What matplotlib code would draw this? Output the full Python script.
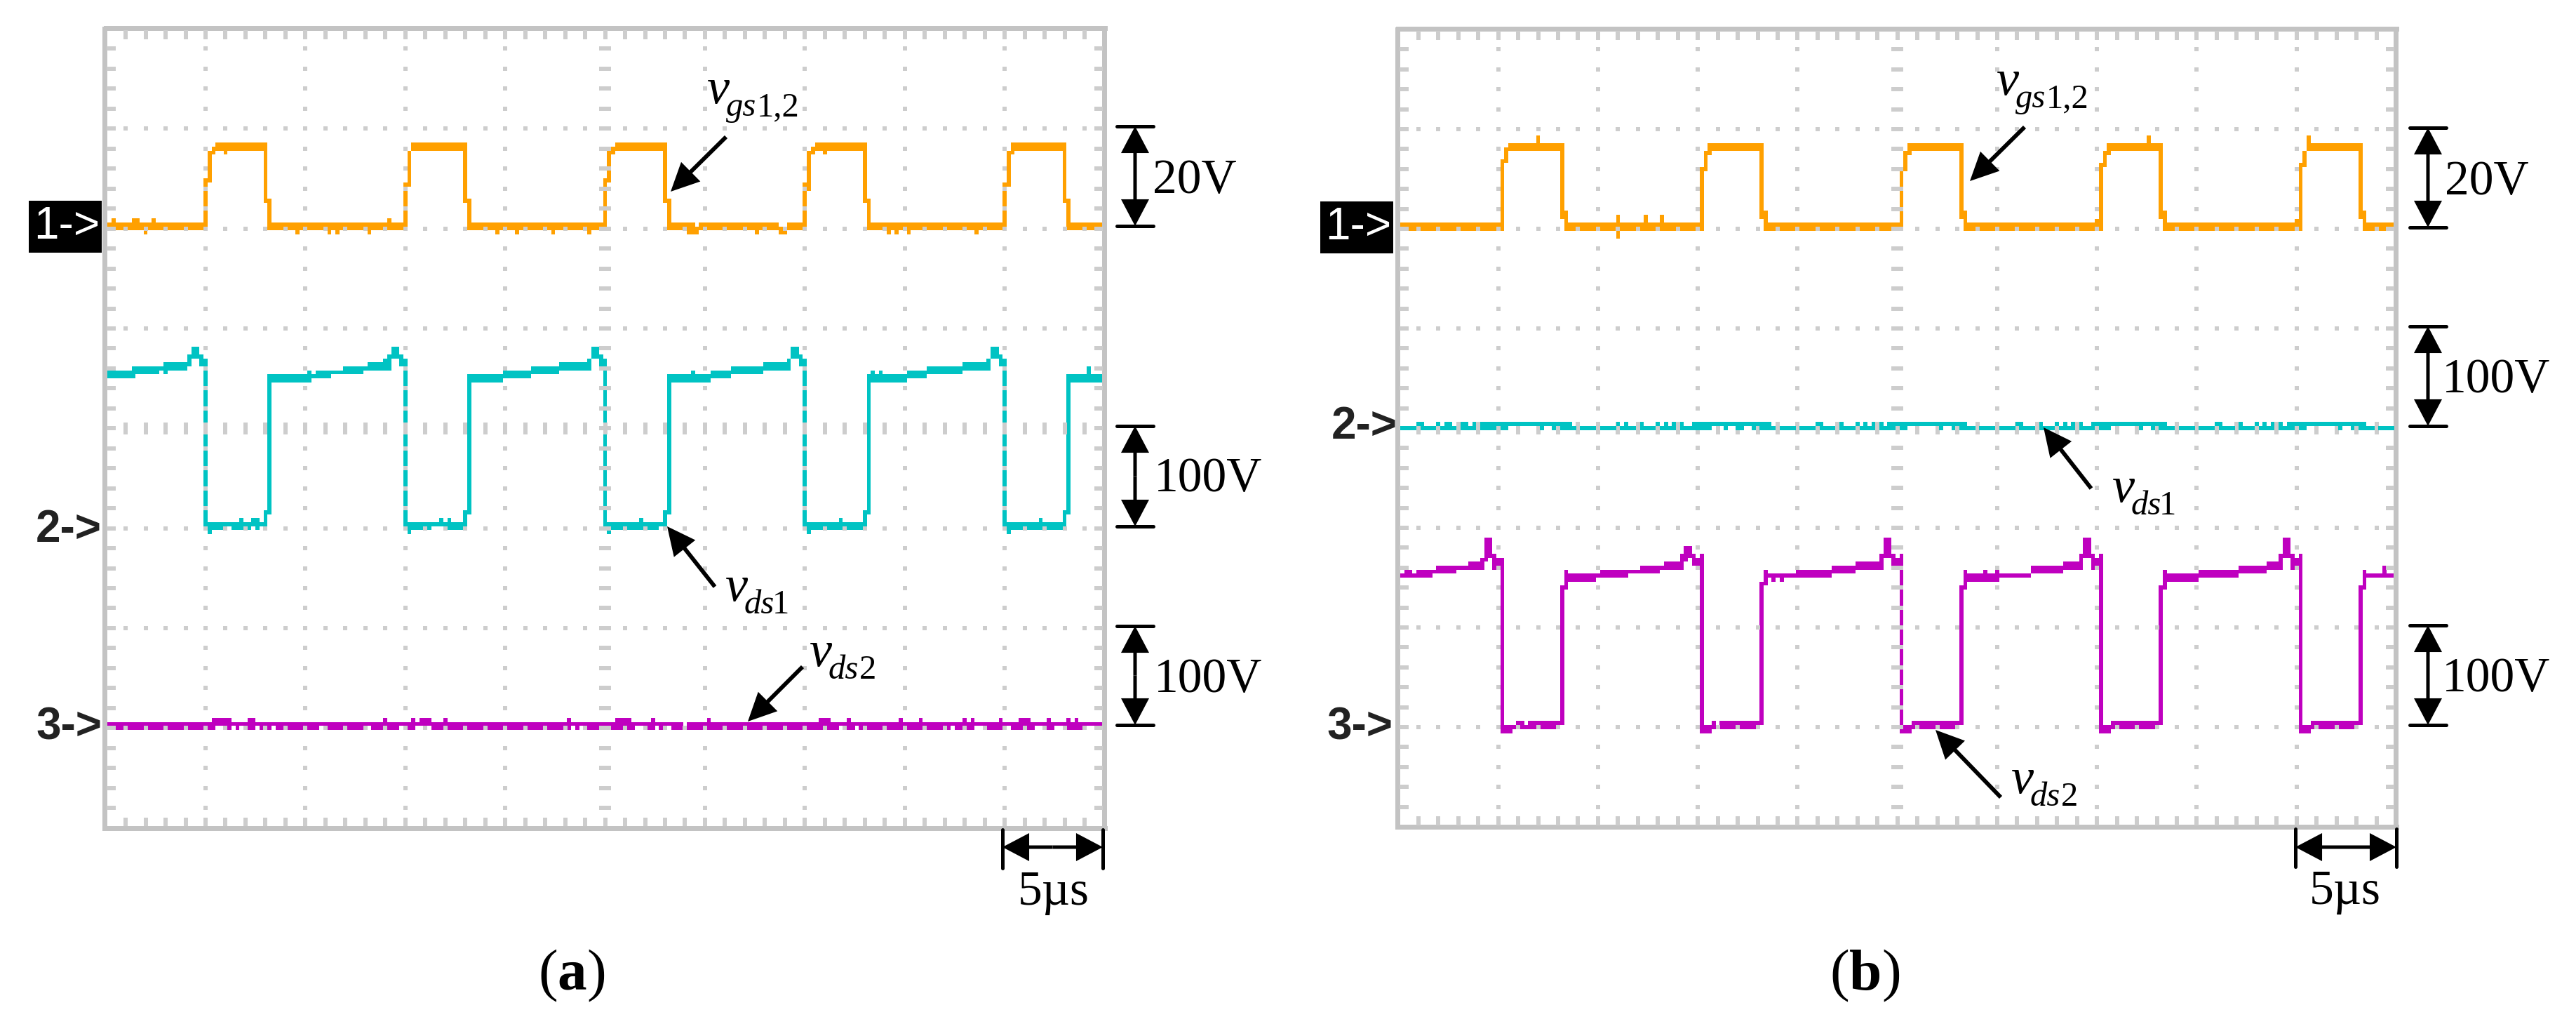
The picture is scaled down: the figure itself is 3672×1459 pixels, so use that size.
import matplotlib
matplotlib.use("Agg")
import matplotlib.pyplot as plt
from matplotlib.patches import Rectangle

W, H = 3672, 1459
plt.rcParams['font.family'] = ['Liberation Serif', 'DejaVu Serif']
plt.rcParams['mathtext.fontset'] = 'custom'
plt.rcParams['mathtext.rm'] = 'Liberation Serif'
plt.rcParams['mathtext.it'] = 'Liberation Serif:italic'
plt.rcParams['mathtext.bf'] = 'Liberation Serif:bold'

ORANGE, CYAN, MAGENTA = '#FFA000', '#00C3C3', '#BF00BF'
GRID, FRAME = '#CDCDCD', '#C3C3C3'

# Scope raster: 25 columns and 25 rows per division. Each run is (first column, top row, bottom row).
orange_a = [
    (0,49,50),(2,48,50),(3,49,50),(7,48,50),(9,49,50),(10,49,51),(11,49,50),(12,48,50),(13,49,50),
    (25,38,50),(26,31,38),(27,30,31),(28,29,30),(30,29,31),(31,29,30),(40,29,43),(41,43,50),
    (42,49,50),(48,49,51),(49,49,50),(56,49,51),(57,49,50),(58,49,51),(59,49,50),(66,49,51),(67,49,50),(71,48,50),(72,49,50),
    (75,39,50),(76,31,39),(77,29,30),(90,29,43),(91,43,50),
    (92,49,50),(98,49,51),(99,49,50),(103,49,51),(104,49,50),(112,49,51),(113,49,50),(121,49,51),(122,49,50),
    (125,38,50),(126,31,38),(127,30,31),(128,29,30),(140,29,43),(141,43,50),
    (142,49,50),(146,49,51),(148,50,51),(149,49,50),(163,49,51),(164,49,50),(169,50,51),(171,49,50),
    (175,39,50),(176,31,40),(177,30,31),(178,29,30),(180,29,31),(181,29,30),(190,29,43),(191,43,50),
    (192,49,50),(196,49,51),(197,49,50),(198,49,51),(199,49,50),(201,49,51),(202,49,50),(218,49,51),(219,49,50),
    (225,39,50),(226,31,39),(227,29,31),(228,29,30),(240,29,43),(241,43,50),(242,49,50),(250,49,50),
]
cyan_a = [
    (0,86,88),(1,86,87),(7,85,87),(8,85,86),(14,85,85),(15,84,86),(16,84,85),(21,82,84),(22,80,82),(24,82,84),
    (25,83,124),(26,124,126),(27,124,125),(30,124,124),(32,124,125),(34,123,125),(35,124,124),(36,124,125),(37,123,124),(38,123,125),(39,124,124),(40,121,124),(41,87,121),
    (42,87,88),(51,86,88),(52,87,87),(53,86,87),(57,86,86),(60,85,86),(65,85,85),(66,84,85),(70,83,85),(71,82,85),(72,80,82),(74,82,84),
    (75,83,124),(76,124,126),(77,124,125),(80,124,124),(81,124,125),(82,124,124),(84,123,124),(85,124,124),(86,123,125),(87,124,125),(90,121,124),(91,87,121),
    (92,87,88),(100,86,87),(107,85,86),(114,84,85),(121,83,85),(122,80,82),(124,82,84),
    (125,83,124),(126,124,126),(127,124,125),(134,123,125),(135,124,125),(139,124,124),(140,121,124),(141,87,121),
    (142,87,88),(147,86,88),(148,87,88),(152,86,87),(157,85,86),(165,84,85),(171,83,85),(172,80,82),(174,82,84),
    (175,83,124),(176,124,126),(177,124,125),(184,123,125),(185,124,125),(190,121,124),(191,87,121),
    (192,86,88),(193,87,88),(194,86,88),(195,87,88),(201,86,87),(206,85,86),(215,84,85),(221,83,85),(222,80,82),(224,82,84),
    (225,83,124),(226,124,126),(227,124,125),(234,123,125),(235,124,125),(240,121,124),(241,87,121),
    (242,87,88),(246,85,88),(247,87,88),(250,87,88),
]
mag_a_raised = [27,28,29,30,31,36,37,70,77,79,80,81,85,116,128,129,130,131,137,151,179,180,181,186,199,204,215,217,224,229,230,231,236,241,243]
mag_a_thin = [28,29,30,32,34,35,38,40,42,54,55,66,74,78,79,80,81,117,119,133,134,138,141,184,188,210,212,218,219,226,233,234,238,239,246,247]
mag_a_gap = [145]
orange_b = [
    (0,49,50),(26,33,50),(27,30,33),(28,29,30),(35,27,30),(36,29,30),(41,29,47),(42,46,50),
    (43,49,50),(55,47,52),(56,49,50),(62,47,50),(63,49,50),(66,47,50),(67,49,50),
    (76,35,50),(77,31,35),(78,29,31),(79,29,30),(91,29,47),(92,46,50),
    (93,49,50),(126,35,50),(127,31,35),(128,29,31),(129,29,30),(141,29,47),(142,46,50),
    (143,49,50),(175,48,50),(176,34,50),(177,31,34),(178,29,31),(179,29,30),(188,27,30),(189,29,30),(191,29,47),(192,46,50),
    (193,49,50),(225,48,50),(226,34,50),(227,31,34),(228,27,30),(229,29,30),(241,29,47),(242,46,50),(243,49,50),(250,49,50),
]
cyan_b_both = [6,12,13,16,17,19,21,22,23,24,26,27,36,39,41,42,43,57,61,67,69,71,74,75,76,77,78,82,85,86,89,91,92,93,106,111,117,119,121,123,124,126,127,136,139,141,142,156,161,167,169,171,174,176,177,178,186,189,191,192,206,211,217,219,221,223,224,226,227,236,239,241,242]
cyan_b_upper = [5,10,25,28,29,30,31,32,33,34,35,37,38,40,55,65,79,80,81,83,84,87,88,90,105,115,125,128,129,130,131,132,133,134,135,137,138,140,155,165,175,179,180,181,182,183,184,185,187,188,190,205,215,225,228,229,230,231,232,233,234,235,237,238,240]
cyan_b_gap = [15,20,45,50,60,70,95,100,110,120,145,150,160,170,195,200,210,220,245]
magenta_b = [
    (0,137,137),(2,136,137),(4,137,137),(5,136,137),(9,136,136),(10,135,136),(15,135,135),(18,134,135),(21,133,135),(22,128,133),(23,128,132),(24,132,135),(25,133,134),
    (26,133,176),(27,175,176),(29,175,175),(30,174,175),(32,175,175),(33,174,175),(35,174,174),(36,174,175),(40,174,174),(41,140,174),
    (42,136,140),(43,137,138),(50,137,137),(51,136,137),(58,136,136),(61,135,136),(66,135,135),(67,134,135),(71,132,135),(72,130,133),(73,130,132),(74,132,134),(75,133,134),
    (76,132,176),(77,175,176),(79,174,175),(80,175,175),(81,174,175),(85,174,174),(86,174,175),(90,174,174),(91,139,174),
    (92,136,139),(93,137,137),(94,137,138),(95,137,137),(96,137,138),(97,137,137),(100,136,137),(109,135,136),(115,134,135),(121,132,135),(122,128,132),(124,132,135),(125,133,134),
    (126,132,176),(127,175,176),(129,174,175),(140,174,174),(141,140,174),
    (142,136,140),(143,137,138),(147,136,138),(148,137,138),(150,136,138),(151,137,137),(153,137,137),(159,135,136),(167,134,135),(171,132,135),(172,128,132),(174,132,135),(175,133,134),
    (176,132,176),(177,175,176),(179,174,175),(190,174,174),(191,140,174),
    (192,136,140),(193,137,138),(201,136,137),(211,135,136),(218,134,135),(221,132,135),(222,128,132),(224,132,135),(225,133,134),
    (226,132,176),(227,175,176),(229,174,175),(240,174,174),(241,140,174),
    (242,136,140),(243,137,137),(247,135,137),(248,137,137),(250,137,137),
]
channel_labels = ['1->', '2->', '3->']


def columns_to_runs(base_top, base_bottom, raised, thin, gap, first, last):
    """Per-column rows from the lists of columns that differ from the base row."""
    runs = []
    for c in range(first, last + 1):
        if c in gap:
            runs.append((c, None, None))
            continue
        top = base_top - 1 if c in raised else base_top
        bottom = base_bottom - 1 if c in thin else base_bottom
        runs.append((c, top, bottom))
    runs.append((last + 1, None, None))
    return runs


def draw_runs(ax, runs, color, z):
    for (c0, top, bottom), (c1, _, _) in zip(runs[:-1], runs[1:]):
        if top is None:
            continue
        ax.bar(c0 - 0.5, bottom - top + 1, width=c1 - c0, bottom=top - 0.5, align='edge',
               color=color, linewidth=0, antialiased=False, zorder=z)


def draw_grid(ax):
    lat = range(5, 250, 5)
    rows = range(5, 200, 5)
    xs, ys = [], []
    for c in lat:
        for r in rows:
            if (c % 25 == 0 or r % 25 == 0) and c != 125 and r != 100:
                xs.append(c)
                ys.append(r)
    ax.scatter(xs, ys, marker='s', s=(6 * 0.72) ** 2, color=GRID, linewidths=0, zorder=3)
    for a, b in ((0.3, 2.6), (247.4, 249.5), (123.5, 126.5)):
        ax.hlines(list(rows), a, b, color=GRID, lw=6 * 0.72, capstyle='butt', zorder=3)
    for a, b in ((0.4, 2.6), (197.4, 199.6), (98.5, 101.5)):
        ax.vlines(list(lat), a, b, color=GRID, lw=6 * 0.72, capstyle='butt', zorder=3)


def panel(x0, x1, y0, y1):
    ax = fig.add_axes([x0 / W, 1 - y1 / H, (x1 - x0) / W, (y1 - y0) / H])
    ax.set_xlim(0, 250)
    ax.set_ylim(200, 0)
    ax.set_xticks([])
    ax.set_yticks([])
    for s in ax.spines.values():
        s.set_color(FRAME)
        s.set_linewidth(7 * 0.72)
    ax.spines['left'].set_position(('outward', 1.2))
    ax.spines['top'].set_position(('outward', 0.7))
    ax.spines['right'].set_position(('outward', -0.6))
    return ax


fig = plt.figure(figsize=(W / 100, H / 100), dpi=100)

ax_a = panel(150.6, 1574.5, 41, 1179.6)
draw_grid(ax_a)
draw_runs(ax_a, orange_a, ORANGE, 2)
draw_runs(ax_a, cyan_a, CYAN, 2)
draw_runs(ax_a, columns_to_runs(174, 175, mag_a_raised, mag_a_thin, mag_a_gap, 0, 249), MAGENTA, 2)

ax_b = panel(1993.4, 3416, 42, 1178)
draw_grid(ax_b)
draw_runs(ax_b, orange_b, ORANGE, 2)
cb = []
for c in range(1, 250):
    if c in cyan_b_gap:
        cb.append((c, None, None))
    elif c in cyan_b_both:
        cb.append((c, 99, 100))
    elif c in cyan_b_upper:
        cb.append((c, 99, 99))
    else:
        cb.append((c, 100, 100))
cb.append((250, None, None))
draw_runs(ax_b, cb, CYAN, 4)
draw_runs(ax_b, magenta_b, MAGENTA, 2)

ov = fig.add_axes([0, 0, 1, 1], zorder=10)
ov.set_xlim(0, W)
ov.set_ylim(H, 0)
ov.axis('off')
ov.patch.set_alpha(0)

SIMPLE_DIM = 'simple,head_length=2.74,head_width=2.88,tail_width=0.36'
SIMPLE_NOTE = 'simple,head_length=2.9,head_width=2.8,tail_width=0.42'


def arrow(xy, xytext, style):
    ov.annotate('', xy=xy, xytext=xytext,
                arrowprops=dict(arrowstyle=style, mutation_scale=10, lw=0, color='k', shrinkA=0, shrinkB=0))


def dim_v(x, y0, y1):
    mid = (y0 + y1) / 2
    arrow((x, y0), (x, mid), SIMPLE_DIM)
    arrow((x, y1), (x, mid), SIMPLE_DIM)
    for y in (y0, y1):
        ov.plot([x - 26, x + 26], [y, y], color='k', lw=3.6, solid_capstyle='round')


def dim_h(x0, x1, y, top, bottom):
    mid = (x0 + x1) / 2
    arrow((x0, y), (mid, y), SIMPLE_DIM)
    arrow((x1, y), (mid, y), SIMPLE_DIM)
    for x in (x0, x1):
        ov.plot([x, x], [top, bottom], color='k', lw=3.6, solid_capstyle='round')


def txt(x, y, s, size=50, **kw):
    ov.text(x, y, s, fontsize=size, ha='left', va='baseline', **kw)


def vlabel(x, base, letters, digits, digit_dx):
    txt(x, base, 'v', style='italic', size=52)
    txt(x + 28, base + 18, letters, size=35, style='italic')
    txt(x + digit_dx, base + 18, digits, size=35)


# Panel (a)
dim_v(1618, 180, 322)
dim_v(1618, 607, 750)
dim_v(1618, 892, 1033)
dim_h(1429, 1572, 1207, 1182, 1237)
txt(1643, 275, '20V')
txt(1645, 700, '100V')
txt(1645, 986, '100V')
txt(1451, 1289, '5\u00b5s')
vlabel(1007, 147, 'gs', '1,2', 72)
vlabel(1033, 856, 'ds', '1', 68)
vlabel(1153, 949, 'ds', '2', 72)
arrow((956, 273), (1035, 195), SIMPLE_NOTE)
arrow((951, 750), (1019, 836), SIMPLE_NOTE)
arrow((1066, 1028), (1144, 950), SIMPLE_NOTE)
ov.text(815, 1410, r'($\mathbf{a}$)', fontsize=60, ha='center', va='baseline')

# Panel (b)
dim_v(3461, 182, 324)
dim_v(3461, 465, 607)
dim_v(3461, 891, 1033)
dim_h(3272, 3416, 1207, 1181, 1235)
txt(3485, 277, '20V')
txt(3481, 559, '100V')
txt(3481, 985, '100V')
txt(3292, 1288, '5\u00b5s')
vlabel(2845, 135, 'gs', '1,2', 72)
vlabel(3010, 715, 'ds', '1', 68)
vlabel(2866, 1130, 'ds', '2', 72)
arrow((2808, 258), (2886, 181), SIMPLE_NOTE)
arrow((2913, 609), (2981, 696), SIMPLE_NOTE)
arrow((2759, 1040), (2852, 1136), SIMPLE_NOTE)
ov.text(2658, 1410, r'($\mathbf{b}$)', fontsize=60, ha='center', va='baseline')

# Channel markers
ov.add_patch(Rectangle((41, 286), 104, 74, color='k', lw=0))
ov.add_patch(Rectangle((1882, 287), 104, 74, color='k', lw=0))
SANS = dict(family='Liberation Sans', fontsize=46, ha='center', va='center')
ov.text(95, 323, channel_labels[0], color='white', **SANS)
ov.text(1936, 324, channel_labels[0], color='white', **SANS)
ov.text(98, 755, channel_labels[1], color='#222222', fontweight='bold', **SANS)
ov.text(1945, 608, channel_labels[1], color='#222222', fontweight='bold', **SANS)
ov.text(98, 1036, channel_labels[2], color='#222222', fontweight='bold', **SANS)
ov.text(1938, 1036, channel_labels[2], color='#222222', fontweight='bold', **SANS)

fig.savefig('out.png', dpi=100, facecolor='white')
